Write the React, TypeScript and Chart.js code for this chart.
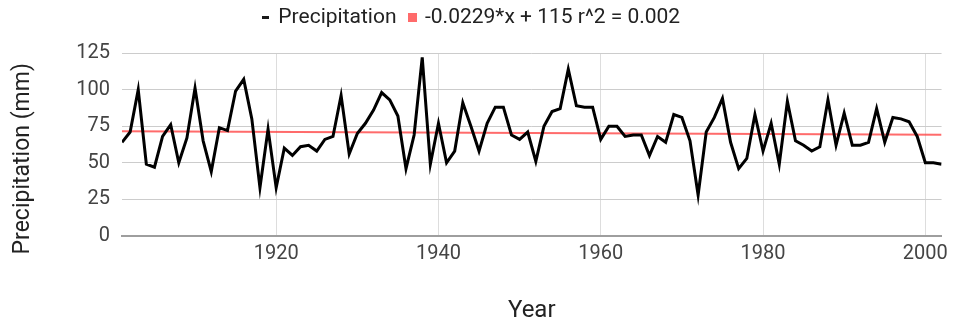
import { useEffect, useRef } from "react";
import { Chart, registerables } from "chart.js";

Chart.register(...registerables);

const years = [
  1901, 1902, 1903, 1904, 1905, 1906, 1907, 1908, 1909, 1910,
  1911, 1912, 1913, 1914, 1915, 1916, 1917, 1918, 1919, 1920,
  1921, 1922, 1923, 1924, 1925, 1926, 1927, 1928, 1929, 1930,
  1931, 1932, 1933, 1934, 1935, 1936, 1937, 1938, 1939, 1940,
  1941, 1942, 1943, 1944, 1945, 1946, 1947, 1948, 1949, 1950,
  1951, 1952, 1953, 1954, 1955, 1956, 1957, 1958, 1959, 1960,
  1961, 1962, 1963, 1964, 1965, 1966, 1967, 1968, 1969, 1970,
  1971, 1972, 1973, 1974, 1975, 1976, 1977, 1978, 1979, 1980,
  1981, 1982, 1983, 1984, 1985, 1986, 1987, 1988, 1989, 1990,
  1991, 1992, 1993, 1994, 1995, 1996, 1997, 1998, 1999, 2000,
  2001, 2002,
];

const precipitation = [
  64, 71, 100, 49, 47, 68, 76, 50, 67, 101,
  65, 44, 74, 72, 99, 107, 80, 33, 73, 33,
  60, 55, 61, 62, 58, 66, 68, 96, 56, 70,
  77, 86, 98, 93, 82, 46, 69, 122, 49, 77,
  50, 58, 91, 75, 58, 77, 88, 88, 69, 66,
  71, 51, 75, 85, 87, 114, 89, 88, 88, 66,
  75, 75, 68, 69, 69, 55, 68, 64, 83, 81,
  65, 28, 71, 81, 94, 64, 46, 53, 83, 58,
  77, 49, 92, 65, 62, 58, 61, 93, 62, 84,
  62, 62, 64, 87, 64, 81, 80, 78, 68, 50,
  50, 49,
];

const trendYears = [1901, 2002];
const trendValues = [71.5, 69.2];

const xTickValues = [1920, 1940, 1960, 1980, 2000];
const yTickValues = [0, 25, 50, 75, 100, 125];

const seriesLabel = "Precipitation";
const trendLabel = "-0.0229*x + 115 r^2 = 0.002";
const xTitle = "Year";
const yTitle = "Precipitation (mm)";

function makeMarker(w: number, h: number, color: string) {
  const c = document.createElement("canvas");
  c.width = w;
  c.height = h;
  const ctx = c.getContext("2d")!;
  ctx.fillStyle = color;
  ctx.fillRect(0, 0, w, h);
  return c;
}

export default function App() {
  const ref = useRef<HTMLCanvasElement | null>(null);

  useEffect(() => {
    if (!ref.current) return;
    const markers = [makeMarker(7, 3, "#1a1a1a"), makeMarker(9, 9, "#ff6b6b")];
    const font = "Roboto";
    const chart = new Chart(ref.current, {
      type: "line",
      data: {
        datasets: [
          {
            label: seriesLabel,
            data: years.map((y, i) => ({ x: y, y: precipitation[i] })),
            borderColor: "#000000",
            backgroundColor: "#000000",
            borderWidth: 3,
            pointRadius: 0,
            tension: 0,
            order: 1,
          },
          {
            label: trendLabel,
            data: trendYears.map((y, i) => ({ x: y, y: trendValues[i] })),
            borderColor: "rgba(255, 70, 70, 0.8)",
            backgroundColor: "rgba(255, 70, 70, 0.8)",
            borderWidth: 2,
            pointRadius: 0,
            tension: 0,
            order: 2,
          },
        ],
      },
      options: {
        responsive: false,
        animation: false,
        devicePixelRatio: 1,
        layout: { padding: { top: -7, right: 10, bottom: 0, left: 0 } },
        plugins: {
          tooltip: { enabled: false },
          title: {
            display: true,
            text: " ",
            weight: 500,
            font: { family: font, size: 10 },
            padding: { top: 3, bottom: 0 },
          } as any,
          legend: {
            display: true,
            position: "top",
            labels: {
              usePointStyle: true,
              boxWidth: 4,
              boxHeight: 4,
              padding: 14,
              color: "#222222",
              font: { family: font, size: 21 },
              generateLabels: (c: any) =>
                Chart.defaults.plugins.legend.labels
                  .generateLabels(c)
                  .map((l: any, i: number) => ({ ...l, pointStyle: markers[i] })),
            },
          },
        },
        scales: {
          x: {
            type: "linear",
            min: years[0],
            max: years[years.length - 1],
            afterBuildTicks: (s: any) => {
              s.ticks = xTickValues.map((v) => ({ value: v }));
            },
            afterFit: (s: any) => {
              s.height = 90;
            },
            grid: { color: "#dddddd", lineWidth: 1, drawTicks: false },
            border: { display: true, color: "#9e9e9e", width: 2 },
            ticks: {
              color: "#444444",
              font: { family: font, size: 20 },
              padding: 6,
              maxRotation: 0,
              callback: (v: any) => String(v),
            },
            title: {
              display: true,
              text: xTitle,
              color: "#222222",
              font: { family: font, size: 24 },
              padding: { top: 0, bottom: 1 },
            },
          },
          y: {
            min: yTickValues[0],
            max: yTickValues[yTickValues.length - 1],
            afterBuildTicks: (s: any) => {
              s.ticks = yTickValues.map((v) => ({ value: v }));
            },
            afterFit: (s: any) => {
              s.width = 122;
            },
            grid: { color: "#cccccc", lineWidth: 1, drawTicks: false },
            border: { display: false },
            ticks: {
              color: "#444444",
              font: { family: font, size: 20 },
              padding: 12,
            },
            title: {
              display: true,
              text: yTitle + "     ",
              color: "#222222",
              font: { family: font, size: 23 },
              padding: { top: 9, bottom: 0 },
            },
          },
        },
      } as any,
    });
    return () => chart.destroy();
  }, []);

  return (
    <div style={{ position: "fixed", left: 0, top: 0, width: 954, height: 326, background: "#ffffff" }}>
      <canvas ref={ref} width={954} height={326} style={{ display: "block" }} />
    </div>
  );
}
